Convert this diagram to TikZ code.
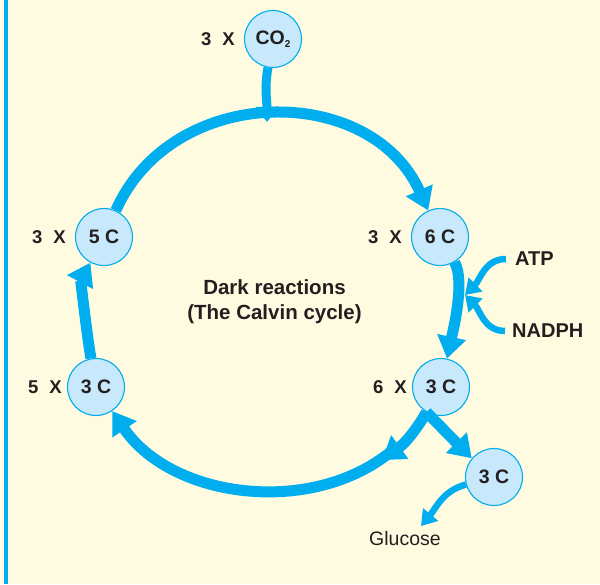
\documentclass[tikz,border=0pt]{standalone}
\usepackage{fontspec}
\setmainfont{Liberation Sans}
\usetikzlibrary{arrows.meta,positioning}
\definecolor{cblue}{RGB}{0,174,239}
\definecolor{clight}{RGB}{199,233,251}
\definecolor{cbg}{RGB}{255,251,224}
\definecolor{ctext}{RGB}{35,31,32}
\begin{document}
\begin{tikzpicture}[x=1pt,y=1pt,
 cnode/.style={circle,draw=cblue,line width=1.1pt,fill=clight,minimum size=57pt,inner sep=0pt,text=ctext,font=\fontsize{19.5}{21}\selectfont\bfseries},
 lbl/.style={inner sep=0pt,text=ctext,font=\fontsize{18.5}{20}\selectfont\bfseries},
 bigarr/.style={draw=cblue,line width=11pt,-{Triangle[width=28pt,length=22pt]}},
 plainarc/.style={draw=cblue,line width=11pt},
 midarr/.style={draw=cblue,line width=9pt,-{Triangle[width=22pt,length=15pt]}},
 smallarr/.style={draw=cblue,line width=6.5pt,-{Triangle[width=19pt,length=15pt]}},
 side/.style={inner sep=0pt,anchor=west,text=ctext,font=\fontsize{20}{22}\selectfont\bfseries}
]
\fill[cbg] (0,0) rectangle (600,584);
\useasboundingbox (0,0) rectangle (600,584);
\draw[cblue,line width=4pt] (6.4,0) -- (6.4,584);

\node[cnode] (co2) at (273,545) {CO\raisebox{-3pt}{\fontsize{10}{10}\selectfont 2}};
\node[cnode] (n5c) at (104,347) {5 C};
\node[cnode] (n6c) at (440,347) {6 C};
\node[cnode] (n5x3) at (96,197) {3 C};
\node[cnode] (n6x3) at (441,197) {3 C};
\node[cnode] (n3c) at (494,107) {3 C};

\node[lbl, left=9pt of co2] (lco2) {3\hspace{0.6em}X};
\node[lbl, left=9pt of n5c] (l5c) {3\hspace{0.6em}X};
\node[lbl, left=9pt of n6c] (l6c) {3\hspace{0.6em}X};
\node[lbl, left=5pt of n5x3] (l5x3) {5\hspace{0.6em}X};
\node[lbl, left=5pt of n6x3] (l6x3) {6\hspace{0.6em}X};

\node[align=center,text=ctext,font=\fontsize{20.5}{25}\selectfont\bfseries] (title) at (274.5,282) {Dark reactions\\(The Calvin cycle)};
\node[side] (atp) at (515,325) {ATP};
\node[side] (nadph) at (512,253) {NADPH};
\node[text=ctext,font=\fontsize{19.5}{21}\selectfont] (glu) at (405,45) {Glucose};

\coordinate (t) at (267,462);
\coordinate (j) at (465,289);
\coordinate (m) at (382,124);
\coordinate (m2) at (393,134);
\coordinate (g) at (421,58);

\draw[bigarr] (n5c) to[bend left=66,looseness=1.15] (n6c);
\draw[bigarr] (n6c) to[out=-60,in=78,looseness=0.6] (n6x3);
\draw[bigarr] (m2) to[out=-140,in=-56,looseness=0.95] (n5x3);
\draw[bigarr] (n6x3) to[out=-120,in=36] (m);
\draw[bigarr] (n5x3) to[out=100,in=-118,looseness=0.55] (n5c);
\draw[bigarr] (n6x3.-120) -- (n3c.140);
\draw[midarr] (co2) to[out=-100,in=90] (t);
\draw[smallarr] ([xshift=-9pt]atp.west) to[out=180,in=45] (j);
\draw[smallarr] ([xshift=-7pt]nadph.west) to[out=180,in=-45] (j);
\draw[smallarr] (n3c) to[out=195,in=50] (g);
\end{tikzpicture}
\end{document}
